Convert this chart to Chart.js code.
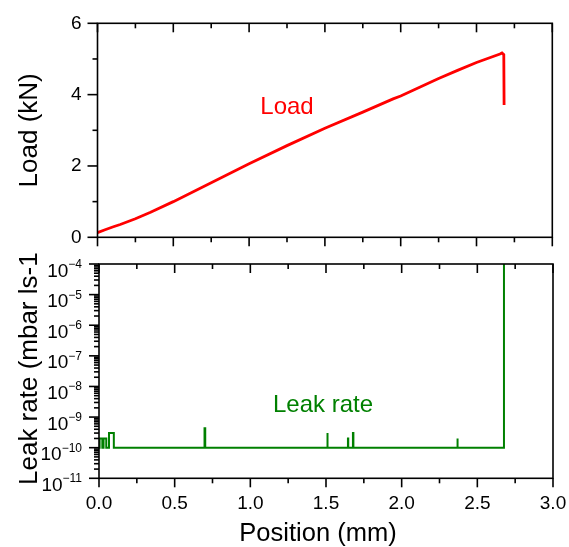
<!DOCTYPE html>
<html>
<head>
<meta charset="utf-8">
<script src="https://cdn.jsdelivr.net/npm/chart.js@4.4.1/dist/chart.umd.min.js"></script>
<style>
    html, body { margin: 0; padding: 0; background: #fff; }
    #wrap { position: relative; width: 569px; height: 547px; overflow: hidden; }
    #loadChart { position: absolute; left: 0; top: 0; }
    #leakChart { position: absolute; left: 0; top: 252px; }
</style>
</head>
<body>
<div id="wrap">
    <canvas id="loadChart" width="569" height="252"></canvas>
    <canvas id="leakChart" width="569" height="295"></canvas>
</div>
<script>
// load curve (top panel)
const loadPosition = [0, 0.05, 0.10, 0.15, 0.25, 0.35, 0.50, 0.75, 1.00, 1.25, 1.50, 1.75, 1.95, 2.00, 2.125, 2.25, 2.375, 2.50, 2.655, 2.668, 2.680, 2.682];
const loadKN = [0.13, 0.21, 0.29, 0.36, 0.52, 0.70, 1.00, 1.53, 2.06, 2.57, 3.06, 3.51, 3.88, 3.96, 4.21, 4.45, 4.68, 4.90, 5.14, 5.17, 5.12, 3.71];

// leak rate (bottom panel)
const leakPosition = [0.000, 0.004, 0.004, 0.022, 0.022, 0.030, 0.030, 0.048, 0.048, 0.066, 0.066, 0.098, 0.098,
    0.694, 0.694, 0.699, 0.699, 0.702, 0.702, 1.508, 1.508, 1.511, 1.511, 1.645, 1.645, 1.647, 1.647,
    1.678, 1.678, 1.681, 1.681, 2.368, 2.368, 2.370, 2.370, 2.676, 2.676];
const leakRate = [1e-10, 1e-10, 2e-10, 2e-10, 1e-10, 1e-10, 2e-10, 2e-10, 1e-10, 1e-10, 3e-10, 3e-10, 1e-10,
    1e-10, 2e-10, 2e-10, 4.3e-10, 4.3e-10, 1e-10, 1e-10, 3e-10, 3e-10, 1e-10, 1e-10, 2e-10, 2e-10, 1e-10,
    1e-10, 3e-10, 3e-10, 1e-10, 1e-10, 2e-10, 2e-10, 1e-10, 1e-10, 1e-4];

// ticks
const xTicks = [0, 0.5, 1.0, 1.5, 2.0, 2.5, 3.0];
const xMinorTicks = [0.25, 0.75, 1.25, 1.75, 2.25, 2.75];
const loadTicks = [0, 2, 4, 6];
const loadMinorTicks = [1, 3, 5];
const leakExponents = [-11, -10, -9, -8, -7, -6, -5, -4];

const FONT = "'Liberation Sans', Arial, sans-serif";

const leakMinor = [];
leakExponents.slice(0, -1).forEach(e => {
    for (let m = 2; m <= 9; m++) leakMinor.push(m * Math.pow(10, e));
});

// no extra room for tick labels, plot areas are set by layout padding
const zeroPad = s => { s.paddingTop = 0; s.paddingBottom = 0; s.paddingLeft = 0; s.paddingRight = 0; };

// frame + hand drawn tick marks (in on top, out on bottom/left)
const frameTicks = {
    id: 'frameTicks',
    afterDraw(chart, args, opts) {
        const { ctx, chartArea: a } = chart;
        const x = chart.scales.x, y = chart.scales.y;
        ctx.save();
        ctx.strokeStyle = '#000';
        ctx.lineWidth = 1.6;
        ctx.strokeRect(a.left, a.top, a.right - a.left, a.bottom - a.top);
        const line = (x1, y1, x2, y2) => { ctx.beginPath(); ctx.moveTo(x1, y1); ctx.lineTo(x2, y2); ctx.stroke(); };
        xTicks.forEach(v => {
            const px = x.getPixelForValue(v);
            line(px, a.top, px, a.top + 9);
            line(px, a.bottom, px, a.bottom + 9);
        });
        xMinorTicks.forEach(v => {
            const px = x.getPixelForValue(v);
            line(px, a.top, px, a.top + 5);
            line(px, a.bottom, px, a.bottom + 5);
        });
        opts.yMajor.forEach(v => { const py = y.getPixelForValue(v); line(a.left - 10, py, a.left, py); });
        opts.yMinor.forEach(v => { const py = y.getPixelForValue(v); line(a.left - 5, py, a.left, py); });

        ctx.fillStyle = '#000';
        // powers of ten on the log axis
        if (opts.powLabels) {
            ctx.textBaseline = 'alphabetic';
            opts.yMajor.forEach(v => {
                const py = y.getPixelForValue(v);
                const sup = String(Math.round(Math.log10(v))).replace('-', '\u2212');
                ctx.font = '12px ' + FONT;
                const supW = ctx.measureText(sup).width;
                const right = a.left - 17;
                ctx.textAlign = 'right';
                ctx.fillText(sup, right, py + 4);
                ctx.font = '19px ' + FONT;
                ctx.fillText('10', right - supW, py + 12.5);
            });
        }
        // rotated axis title drawn from the bottom up
        if (opts.yTitle) {
            ctx.save();
            ctx.font = '26px ' + FONT;
            ctx.translate(opts.yTitle.x, opts.yTitle.start);
            ctx.rotate(-Math.PI / 2);
            ctx.textAlign = 'left';
            ctx.textBaseline = 'middle';
            ctx.fillText(opts.yTitle.text, 0, 0);
            ctx.restore();
        }
        if (opts.xTitle) {
            ctx.font = '25.5px ' + FONT;
            ctx.textAlign = 'center';
            ctx.textBaseline = 'alphabetic';
            ctx.fillText(opts.xTitle.text, opts.xTitle.x, opts.xTitle.y);
        }

        // in-plot label
        ctx.fillStyle = opts.label.color;
        ctx.font = '24px ' + FONT;
        ctx.textAlign = 'center';
        ctx.textBaseline = 'alphabetic';
        ctx.fillText(opts.label.text, x.getPixelForValue(opts.label.x), y.getPixelForValue(opts.label.y));
        ctx.restore();
    }
};

const loadPoints = loadPosition.map((p, i) => ({ x: p, y: loadKN[i] }));
const leakPoints = leakPosition.map((p, i) => ({ x: p, y: leakRate[i] }));

new Chart(document.getElementById('loadChart').getContext('2d'), {
    type: 'line',
    data: {
        datasets: [{
            label: 'Load',
            data: loadPoints,
            borderColor: '#ff0000',
            borderWidth: 2.8,
            pointRadius: 0,
            tension: 0
        }]
    },
    options: {
        responsive: false,
        animation: false,
        layout: { padding: { top: 23.3, right: 16.7, bottom: 14.7, left: 0 } },
        plugins: {
            legend: { display: false },
            tooltip: { enabled: false },
            frameTicks: {
                yMajor: loadTicks, yMinor: loadMinorTicks,
                label: { text: 'Load', color: '#ff0000', x: 1.25, y: 3.45 }
            }
        },
        scales: {
            x: { type: 'linear', min: 0, max: 3, display: false },
            y: {
                type: 'linear', min: 0, max: 6,
                afterFit: s => { s.width = 97.5; zeroPad(s); },
                afterBuildTicks: s => { s.ticks = loadTicks.map(v => ({ value: v })); },
                grid: { display: false, drawTicks: false },
                border: { display: false },
                ticks: { color: '#000', padding: 16, font: { family: FONT, size: 19 } },
                title: { display: true, text: 'Load (kN)', color: '#000', padding: { top: 14, bottom: 0 }, font: { family: FONT, size: 26 } }
            }
        }
    },
    plugins: [frameTicks]
});

new Chart(document.getElementById('leakChart').getContext('2d'), {
    type: 'line',
    data: {
        datasets: [{
            label: 'Leak rate',
            data: leakPoints,
            borderColor: '#008000',
            borderWidth: 2,
            pointRadius: 0,
            tension: 0
        }]
    },
    options: {
        responsive: false,
        animation: false,
        layout: { padding: { top: 12, right: 16, bottom: 0, left: 0 } },
        plugins: {
            legend: { display: false },
            tooltip: { enabled: false },
            frameTicks: {
                yMajor: leakExponents.map(e => Math.pow(10, e)), yMinor: leakMinor, powLabels: true,
                yTitle: { text: 'Leak rate (mbar ls-1)', x: 30, start: 233 },
                xTitle: { text: 'Position (mm)', x: 318, y: 289 },
                label: { text: 'Leak rate', color: '#008000', x: 1.48, y: 1.5e-9 }
            }
        },
        scales: {
            x: {
                type: 'linear', min: 0, max: 3,
                afterFit: s => { s.height = 68.7; zeroPad(s); },
                afterBuildTicks: s => { s.ticks = xTicks.map(v => ({ value: v })); },
                grid: { display: false, drawTicks: false },
                border: { display: false },
                ticks: { color: '#000', padding: 14, maxRotation: 0, autoSkip: false,
                    font: { family: FONT, size: 19 }, callback: v => v.toFixed(1) },
                title: { display: false }
            },
            y: {
                type: 'logarithmic', min: 1e-11, max: 1e-4,
                afterFit: s => { s.width = 99; zeroPad(s); },
                afterBuildTicks: s => { s.ticks = leakExponents.map(e => ({ value: Math.pow(10, e) })); },
                grid: { display: false, drawTicks: false },
                border: { display: false },
                ticks: { display: false },
                title: { display: false }
            }
        }
    },
    plugins: [frameTicks]
});
</script>
</body>
</html>
